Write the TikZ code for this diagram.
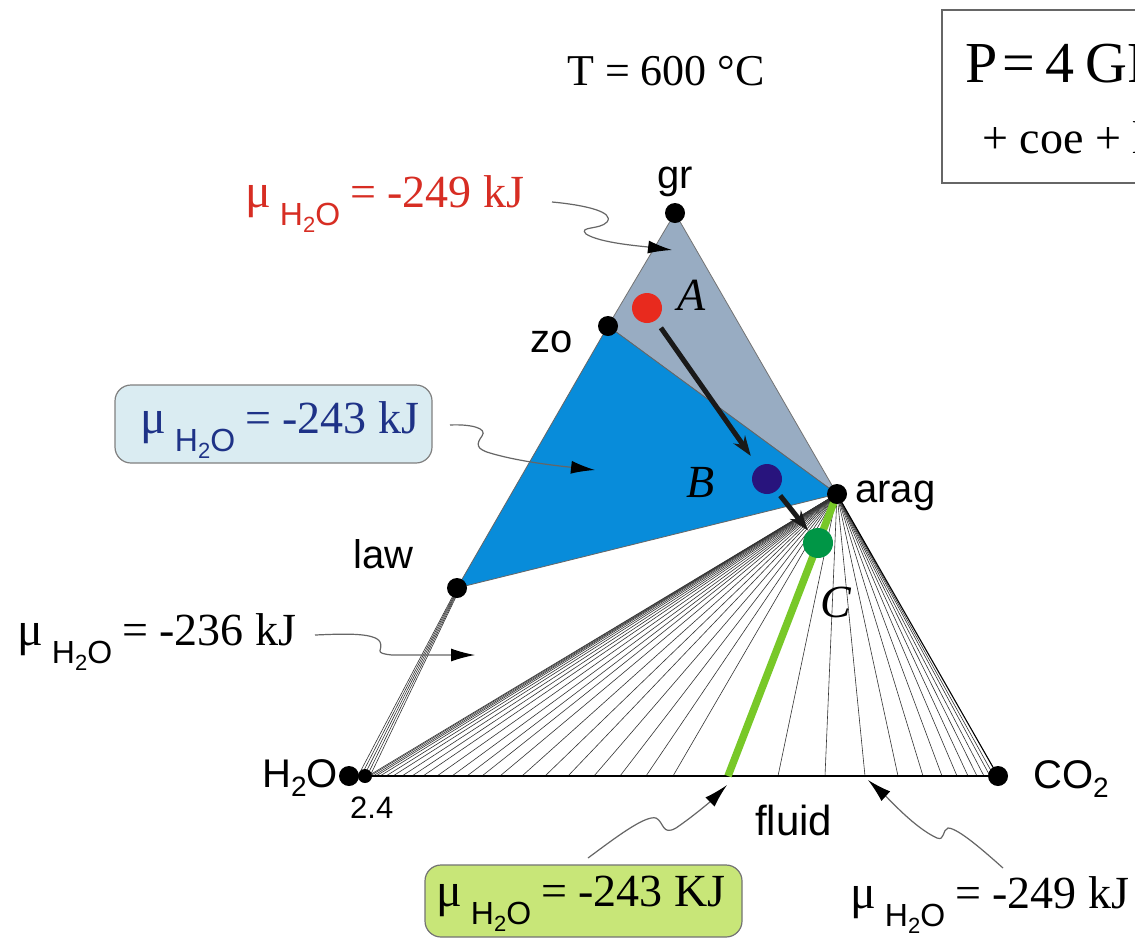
\documentclass[tikz,border=0pt]{standalone}
\usepackage{fontspec}
\setmainfont{Liberation Serif}
\newfontfamily\arialf{Liberation Sans}
\usetikzlibrary{arrows.meta,calc}
\definecolor{grtri}{RGB}{152,172,194}
\definecolor{bltri}{RGB}{8,140,218}
\definecolor{reddot}{RGB}{232,42,30}
\definecolor{navydot}{RGB}{40,20,125}
\definecolor{greendot}{RGB}{0,150,70}
\definecolor{limeline}{RGB}{120,200,40}
\definecolor{redtxt}{RGB}{215,45,35}
\definecolor{bluetxt}{RGB}{30,50,135}
\definecolor{blueboxfill}{RGB}{218,236,242}
\definecolor{greenboxfill}{RGB}{200,230,120}
\newcommand{\mulab}[1]{{\fontsize{48}{50}\selectfont μ}\hspace{9pt}\raisebox{-18pt}{\arialf\fontsize{32}{34}\selectfont H\raisebox{-7pt}{\fontsize{22}{24}\selectfont 2}O}\hspace{10pt}{\fontsize{46}{48}\selectfont = #1}}
\newcommand{\sublab}[2]{#1\raisebox{-9pt}{\fontsize{28}{30}\selectfont #2}}
\begin{document}
\begin{tikzpicture}[x=1pt,y=-1pt,
  fan/.style={line width=0.6pt, black!80},
  edge/.style={line width=1.1pt, black},
  dot/.style={circle, fill=black, inner sep=0pt, minimum size=20pt},
  smalldot/.style={circle, fill=black, inner sep=0pt, minimum size=14pt},
  phase/.style={circle, inner sep=0pt, minimum size=30pt},
  sanslab/.style={font=\arialf\fontsize{40}{42}\selectfont, inner sep=0pt, anchor=base west},
  itlab/.style={font=\itshape\fontsize{46}{48}\selectfont, inner sep=0pt, anchor=base west},
  mutext/.style={inner sep=0pt, anchor=base west},
  wavy/.style={line width=1.2pt, black!60, -{Latex[length=24pt,width=13pt,color=black]}},
  bigarrow/.style={line width=5pt, black!90, -{Stealth[length=20pt,width=14pt]}},
  roundbox/.style={draw=black!50, line width=1.2pt, rounded corners=16pt, inner sep=0pt}
]
\useasboundingbox (0,0) rectangle (1135,938);
\clip (0,0) rectangle (1135,938);
\fill[white] (0,0) rectangle (1135,938);

% vertices
\coordinate (pgr) at (675,213);
\coordinate (pzo) at (608,326);
\coordinate (parag) at (837,494);
\coordinate (plaw) at (457,588);
\coordinate (ph2o) at (349,776);
\coordinate (psm) at (365,776);
\coordinate (pco2) at (998,776);
\coordinate (pgreen) at (728,776);
\coordinate (pgreentop) at (834,502);

% tie-line fan from aragonite to fluid
\foreach \x in {368,370,373,376,380,386,393,402,412,423,437,452,467,482,500,522,545,568,594,620,646,673,778,825,865,898,923,942,957,968,977,984,990,994}
  \draw[fan] (parag) -- (\x,776);
% tie lines law - fluid
\foreach \i in {0,...,4}
  \draw[fan] ($(plaw)+(0.8*\i,0)$) -- (358+3*\i,776);

% triangles
\filldraw[fill=grtri, draw=black!55, line width=0.8pt] (pgr) -- (pzo) -- (parag) -- cycle;
\filldraw[fill=bltri, draw=black!60, line width=0.8pt] (pzo) -- (plaw) -- (parag) -- cycle;

% edges
\draw[edge] (ph2o) -- (pco2);
\draw[edge] (parag) -- (pco2);
\draw[limeline, line width=7.5pt] (pgreentop) -- (pgreen);

% vertex dots
\node[dot] (gr) at (pgr) {};
\node[dot] (zo) at (pzo) {};
\node[dot] (arag) at (parag) {};
\node[dot] (law) at (plaw) {};
\node[dot] (h2o) at (ph2o) {};
\node[smalldot] (sm) at (psm) {};
\node[dot] (co2) at (pco2) {};

% bulk compositions
\node[phase, fill=reddot] (A) at (647,308) {};
\node[phase, fill=navydot] (B) at (767,479) {};
\node[phase, fill=greendot] (C) at (818,543) {};
\draw[bigarrow, shorten <=9pt, shorten >=13pt] (A) -- (B);
\draw[bigarrow, shorten <=6pt, shorten >=1pt] (B) -- (C);

% point labels
\node[itlab] (Alab) at (677,310) {A};
\node[itlab] (Blab) at (686,497) {B};
\node[itlab] (Clab) at (820,617) {C};

% phase labels
\node[sanslab] (grlab) at (657,188) {gr};
\node[sanslab] (zolab) at (530,352) {zo};
\node[sanslab] (araglab) at (855,502) {arag};
\node[sanslab] (lawlab) at (353,568) {law};
\node[sanslab] (h2olab) at (262,787) {\sublab{H}{2}O};
\node[sanslab] (co2lab) at (1033,788) {CO\sublab{}{2}};
\node[sanslab, font=\arialf\fontsize{31}{33}\selectfont] (lab24) at (350,818) {2.4};
\node[sanslab, font=\arialf\fontsize{42}{44}\selectfont] (fluidlab) at (755,835) {fluid};

% title texts
\node[mutext, font=\fontsize{44}{46}\selectfont] (Tlab) at (567,85) {T = 600 °C};
\draw[black!60, line width=1.5pt] (942,10) rectangle (1160,183);
\node[mutext, font=\fontsize{58}{60}\selectfont] (Plab) at (965,82) {P\hspace{5pt}=\hspace{10pt}4\hspace{11pt}GPa};
\node[mutext, font=\fontsize{46}{48}\selectfont] (coelab) at (982,153) {+ coe + l};

% chemical potential labels
\node[roundbox, fill=blueboxfill, minimum width=317pt, minimum height=78pt] (bluebox) at (273.5,424) {};
\node[roundbox, fill=greenboxfill, draw=black!55, minimum width=317pt, minimum height=72pt] (greenbox) at (583.5,901) {};
\node[mutext, text=redtxt] (mured) at (245,207) {\mulab{-249 kJ}};
\node[mutext, text=bluetxt] (mublue) at (140,433) {\mulab{-243 kJ}};
\node[mutext] (mublack) at (17,645) {\mulab{-236 kJ}};
\node[mutext] (mugreen) at (436,906) {\mulab{-243 KJ}};
\node[mutext] (mufl) at (850,908) {\mulab{-249 kJ}};

% pointer coordinates
\coordinate (tred) at (672,250);
\coordinate (tblue) at (595,470);
\coordinate (tblack) at (475,655);
\coordinate (tgreen) at (727,785);
\coordinate (tfl) at (868,780);

% wavy pointers
\draw[wavy] (552,202) .. controls (585,205) and (615,212) .. (607,222) .. controls (600,230) and (578,226) .. (586,234) .. controls (600,243) and (640,246) .. (tred);
\draw[wavy] (450,425) .. controls (470,424) and (488,428) .. (482,436) .. controls (476,444) and (476,449) .. (490,453) .. controls (520,462) and (560,466) .. (tblue);
\draw[wavy] (315,635) .. controls (340,634) and (375,632) .. (380,642) .. controls (384,650) and (372,653) .. (392,655) -- (tblack);
\draw[wavy] (588,858) .. controls (615,838) and (645,815) .. (656,818) .. controls (664,822) and (662,836) .. (676,828) .. controls (695,815) and (712,800) .. (tgreen);
\draw[wavy] (1003,868) .. controls (985,852) and (958,828) .. (948,828) .. controls (942,830) and (945,841) .. (937,838) .. controls (915,828) and (890,800) .. (tfl);
\end{tikzpicture}
\end{document}
